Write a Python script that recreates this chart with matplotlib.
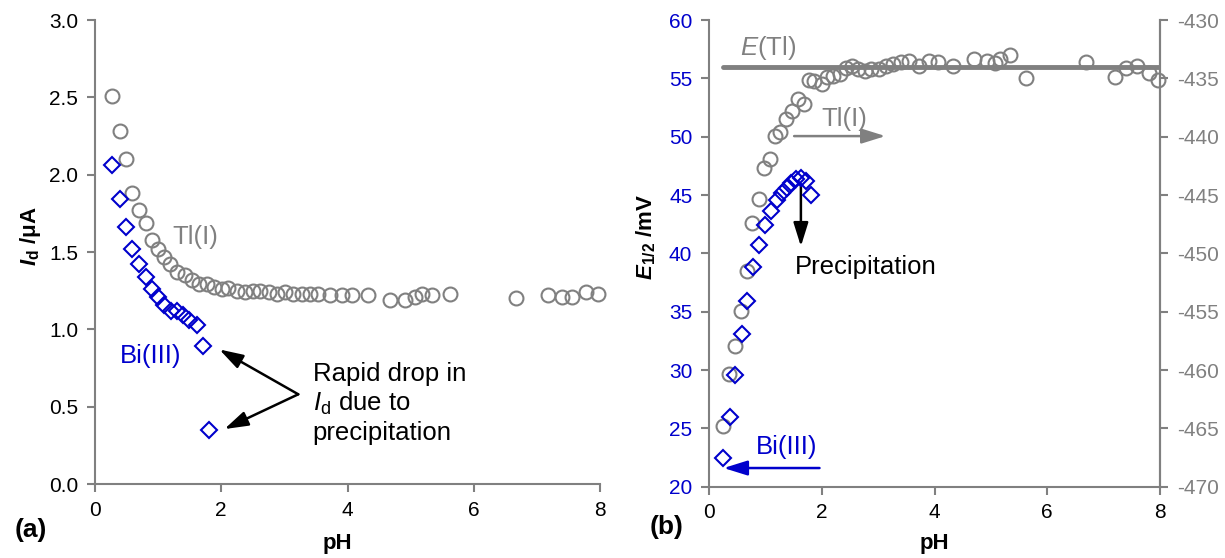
import matplotlib
matplotlib.use("Agg")
import matplotlib.pyplot as plt
import numpy as np

plt.rcParams['font.family'] = ['Liberation Sans', 'DejaVu Sans']
plt.rcParams['axes.unicode_minus'] = False
plt.rcParams['mathtext.fontset'] = 'custom'
plt.rcParams['mathtext.rm'] = 'Liberation Sans'
plt.rcParams['mathtext.it'] = 'Liberation Sans:italic'
plt.rcParams['mathtext.bf'] = 'Liberation Sans:bold'
plt.rcParams['mathtext.bfit'] = 'Liberation Sans:bold:italic'

# ---------------- data: panel (a) ----------------
tl_ph_a = [0.27, 0.39, 0.49, 0.59, 0.70, 0.80, 0.90, 1.00, 1.09, 1.19, 1.30, 1.43, 1.53,
           1.65, 1.77, 1.88, 2.01, 2.11, 2.25, 2.38, 2.51, 2.61, 2.75, 2.88, 3.01, 3.14,
           3.28, 3.41, 3.54, 3.72, 3.91, 4.07, 4.33, 4.68, 4.91, 5.07, 5.18, 5.34, 5.63,
           6.67, 7.18, 7.40, 7.56, 7.78, 7.97]
tl_id_a = [2.51, 2.28, 2.10, 1.88, 1.77, 1.685, 1.58, 1.52, 1.47, 1.42, 1.37, 1.35, 1.32,
           1.29, 1.29, 1.275, 1.26, 1.27, 1.25, 1.24, 1.25, 1.25, 1.24, 1.23, 1.24, 1.23,
           1.23, 1.23, 1.23, 1.22, 1.22, 1.22, 1.22, 1.19, 1.19, 1.21, 1.23, 1.22, 1.23,
           1.20, 1.22, 1.21, 1.21, 1.24, 1.23]
bi_ph_a = [0.27, 0.40, 0.49, 0.59, 0.70, 0.80, 0.90, 1.00, 1.09, 1.20, 1.30, 1.40, 1.49,
           1.61, 1.71, 1.80]
bi_id_a = [2.06, 1.84, 1.66, 1.52, 1.42, 1.34, 1.26, 1.21, 1.16, 1.12, 1.12, 1.09, 1.06,
           1.03, 0.89, 0.35]

# ---------------- data: panel (b) ----------------
tl_ph_b = [0.25, 0.36, 0.46, 0.56, 0.68, 0.77, 0.88, 0.98, 1.08, 1.17, 1.26, 1.37, 1.48,
           1.58, 1.69, 1.78, 1.87, 2.00, 2.10, 2.20, 2.32, 2.43, 2.53, 2.64, 2.77, 2.88,
           3.02, 3.14, 3.27, 3.40, 3.55, 3.72, 3.90, 4.06, 4.33, 4.70, 4.93, 5.07, 5.17,
           5.34, 5.63, 6.68, 7.20, 7.40, 7.59, 7.80, 7.96]
tl_e_b = [-464.8, -460.3, -457.9, -454.9, -451.5, -447.4, -445.3, -442.7, -441.9, -439.9,
          -439.6, -438.5, -437.8, -436.8, -437.2, -435.1, -435.2, -435.5, -434.9, -434.8,
          -434.6, -434.1, -433.9, -434.2, -434.4, -434.2, -434.2, -433.9, -433.8, -433.6,
          -433.5, -433.9, -433.5, -433.6, -433.9, -433.3, -433.5, -433.7, -433.3, -433.0,
          -434.95, -433.6, -434.9, -434.1, -433.95, -434.5, -435.1]
bi_ph_b = [0.25, 0.37, 0.47, 0.58, 0.68, 0.78, 0.89, 1.00, 1.10, 1.20, 1.29, 1.38, 1.46,
           1.55, 1.63, 1.72, 1.81]
bi_e_b = [22.5, 26.0, 29.6, 33.1, 35.9, 38.8, 40.7, 42.4, 43.6, 44.6, 45.2, 45.6, 46.0,
          46.4, 46.5, 46.2, 45.0]
e_tl_level = -434.0
e_tl_span = [0.25, 8.0]

x_ticks = [0, 2, 4, 6, 8]
ya_ticks = [0.0, 0.5, 1.0, 1.5, 2.0, 2.5, 3.0]
yb_ticks = [20, 25, 30, 35, 40, 45, 50, 55, 60]
yb2_ticks = [-470, -465, -460, -455, -450, -445, -440, -435, -430]

GRAY = '#808080'
BLUE = '#0000CC'
FS_TICK = 15
FS_LAB = 16
FS_ANN = 18.5
FS_PANEL = 19

fig = plt.figure(figsize=(12.25, 5.58), dpi=100)

def style(ax, right=False):
    ax.spines['top'].set_visible(False)
    if not right:
        ax.spines['right'].set_visible(False)
    for s in ['left', 'bottom', 'right']:
        ax.spines[s].set_color(GRAY)
        ax.spines[s].set_linewidth(1.5)
    ax.tick_params(axis='both', direction='out', color=GRAY, width=1.5, length=6,
                   labelsize=FS_TICK, pad=6)

ARROW = dict(arrowstyle='-|>,head_length=0.8,head_width=0.25', lw=1.8,
             mutation_scale=18, shrinkA=0, shrinkB=0)

# ---------- panel (a) ----------
axa = fig.add_axes([95/1225, 1-484/558, (600-95)/1225, (484-20)/558])
style(axa)
axa.plot(tl_ph_a, tl_id_a, linestyle='none', marker='o', markersize=10,
         markerfacecolor='none', markeredgecolor=GRAY, markeredgewidth=1.5, clip_on=False)
axa.plot(bi_ph_a, bi_id_a, linestyle='none', marker='D', markersize=8.5,
         markerfacecolor='none', markeredgecolor=BLUE, markeredgewidth=1.5, clip_on=False)
axa.set_xlim(0, 8)
axa.set_ylim(0, 3.0)
axa.set_xticks(x_ticks)
axa.set_yticks(ya_ticks)
axa.set_yticklabels([f'{v:.1f}' for v in ya_ticks])
axa.set_xlabel('pH', fontsize=FS_LAB, fontweight='bold')
axa.xaxis.set_label_coords(0.48, -0.105)
axa.set_ylabel(r'$\boldsymbol{I}_\mathbf{d}$ /$\mathbf{\mu}$A', fontsize=FS_LAB,
               fontweight='bold')
axa.yaxis.set_label_coords(-0.103, 0.535)
axa.text(1.22, 1.60, 'Tl(I)', color=GRAY, fontsize=FS_ANN, va='center', ha='left')
axa.text(0.40, 0.83, 'Bi(III)', color=BLUE, fontsize=FS_ANN, va='center', ha='left')
axa.annotate('', xy=(1.97, 0.87), xytext=(3.22, 0.58),
             arrowprops=dict(color='black', **ARROW))
axa.annotate('', xy=(2.05, 0.355), xytext=(3.22, 0.58),
             arrowprops=dict(color='black', **ARROW))
axa.text(3.45, 0.52, 'Rapid drop in\n$I_\\mathrm{d}$ due to\nprecipitation', fontsize=FS_ANN,
         va='center', ha='left', linespacing=1.2)
fig.text(15/1225, 1-530/558, '(a)', fontsize=FS_PANEL, fontweight='bold', va='center')

# ---------- panel (b) ----------
axb = fig.add_axes([709/1225, 1-486.7/558, (1160-709)/1225, (486.7-20)/558])
style(axb, right=True)
axb2 = axb.twinx()
style(axb2, right=True)
axb2.spines['left'].set_visible(False)
axb2.spines['bottom'].set_visible(False)
axb.set_xlim(0, 8)
axb.set_ylim(20, 60)
axb2.set_ylim(-470, -430)
axb.set_xticks(x_ticks)
axb.set_yticks(yb_ticks)
axb2.set_yticks(yb2_ticks)
axb.tick_params(axis='y', labelcolor=BLUE)
axb2.tick_params(axis='y', labelcolor=GRAY)

axb2.plot(e_tl_span, [e_tl_level, e_tl_level], color=GRAY, lw=3.5, solid_capstyle='round')
axb2.plot(tl_ph_b, tl_e_b, linestyle='none', marker='o', markersize=10,
          markerfacecolor='none', markeredgecolor=GRAY, markeredgewidth=1.5, clip_on=False)
axb2.plot(bi_ph_b, [v - 490 for v in bi_e_b], linestyle='none', marker='D', markersize=8.5,
          markerfacecolor='none', markeredgecolor=BLUE, markeredgewidth=1.5, clip_on=False)

axb.set_xlabel('pH', fontsize=FS_LAB, fontweight='bold')
axb.xaxis.set_label_coords(0.5, -0.1)
axb.set_ylabel(r'$\boldsymbol{E}_\mathbf{1/2}$ /mV', fontsize=FS_LAB, fontweight='bold')
axb.yaxis.set_label_coords(-0.112, 0.535)

axb.text(0.55, 57.6, r'$\mathit{E}$(Tl)', color=GRAY, fontsize=FS_ANN, va='center', ha='left')
axb.text(2.0, 51.5, 'Tl(I)', color=GRAY, fontsize=FS_ANN, va='center', ha='left')
axb.annotate('', xy=(3.13, 50.05), xytext=(1.51, 50.05),
             arrowprops=dict(color=GRAY, **ARROW))
axb.annotate('', xy=(1.63, 40.6), xytext=(1.63, 45.9),
             arrowprops=dict(color='black', **ARROW))
axb.text(1.53, 38.8, 'Precipitation', color='black', fontsize=FS_ANN, va='center', ha='left')
axb.text(0.83, 23.4, 'Bi(III)', color=BLUE, fontsize=FS_ANN, va='center', ha='left')
axb.annotate('', xy=(0.26, 21.6), xytext=(1.96, 21.6),
             arrowprops=dict(color=BLUE, **ARROW))
fig.text(650/1225, 1-527/558, '(b)', fontsize=FS_PANEL, fontweight='bold', va='center')

fig.savefig('out.png', dpi=100)
